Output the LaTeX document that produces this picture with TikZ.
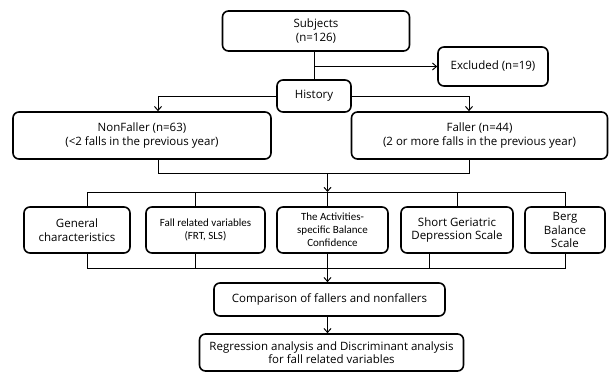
\documentclass[tikz,border=0pt]{standalone}
\usepackage{fontspec}
\setmainfont{Open Sans}
\newfontfamily\narrowfont{Carlito}
\usetikzlibrary{arrows.meta}

\begin{document}
\begin{tikzpicture}[x=1pt,y=-1pt,
  box/.style={draw,line width=1.6pt,rounded corners=6pt,align=center,inner sep=0pt,
    font=\fontsize{11.5}{13.5}\selectfont},
  thin/.style={font=\narrowfont\fontsize{11}{13}\selectfont},
  link/.style={line width=1pt},
  arr/.style={link,-{Straight Barb[length=4pt,width=7pt]}}]
\useasboundingbox (0,0) rectangle (609,372);
\node[box,minimum width=187pt,minimum height=40pt] (subj) at (316,31) {Subjects\\(n=126)};
\node[box,minimum width=110pt,minimum height=39pt] (excl) at (493,66.5) {Excluded (n=19)};
\node[box,minimum width=74pt,minimum height=32pt] (hist) at (314,96) {History};
\node[box,minimum width=258pt,minimum height=47pt] (nonf) at (142,135.5) {NonFaller (n=63)\\(<2 falls in the previous year)};
\node[box,minimum width=256pt,minimum height=47pt] (fall) at (479.5,135.5) {Faller (n=44)\\(2 or more falls in the previous year)};
\node[box,minimum width=106pt,minimum height=46pt] (gen) at (77,230) {General\\characteristics};
\node[box,thin,minimum width=119pt,minimum height=46pt] (frv) at (205.5,230) {Fall related variables\\(FRT, SLS)};
\node[box,thin,minimum width=111pt,minimum height=46pt] (abc) at (332.5,230) {The Activities-\\specific Balance\\Confidence};
\node[box,minimum width=112pt,minimum height=46pt] (gds) at (457,230) {Short Geriatric\\Depression Scale};
\node[box,minimum width=80pt,minimum height=46pt] (bbs) at (565,230) {Berg\\Balance\\Scale};
\node[box,minimum width=231pt,minimum height=33pt] (comp) at (329.5,299.5) {Comparison of fallers and nonfallers};
\node[box,minimum width=264pt,minimum height=37pt] (regr) at (331.5,352.5) {Regression analysis and Discriminant analysis\\for fall related variables};
\coordinate (ln) at (158,173);
\coordinate (rn) at (469,173);
\coordinate (mid) at (327.5,173);
\coordinate (top) at (327.5,192);
\coordinate (bot) at (327.5,268);
\draw[link] (hist.north |- subj.south) -- (hist.north);
\draw[arr] (hist.north |- excl.west) -- (excl.west);
\draw[arr] (hist.west) -| (ln |- nonf.north);
\draw[arr] (hist.east) -| (rn |- fall.north);
\draw[link] (ln |- nonf.south) -- (ln) -- (rn) -- (rn |- fall.south);
\draw[arr] (mid) -- (top);
\draw[link] ([xshift=10pt]gen.north) |- (bbs.north |- top) -- (bbs.north);
\draw[link] ([xshift=-10pt]frv.north) -- ([xshift=-10pt]frv.north |- top);
\draw[link] (top) -- (top |- abc.north);
\draw[link] (gds.north) -- (gds.north |- top);
\draw[link] ([xshift=10pt]gen.south) |- (bbs.south |- bot) -- (bbs.south);
\draw[link] ([xshift=-10pt]frv.south) -- ([xshift=-10pt]frv.south |- bot);
\draw[link] (bot |- abc.south) -- (bot);
\draw[link] ([xshift=-28pt]gds.south) -- ([xshift=-28pt]gds.south |- bot);
\draw[arr] (bot) -- (bot |- comp.north);
\draw[arr] (bot |- comp.south) -- (bot |- regr.north);
\end{tikzpicture}
\end{document}
